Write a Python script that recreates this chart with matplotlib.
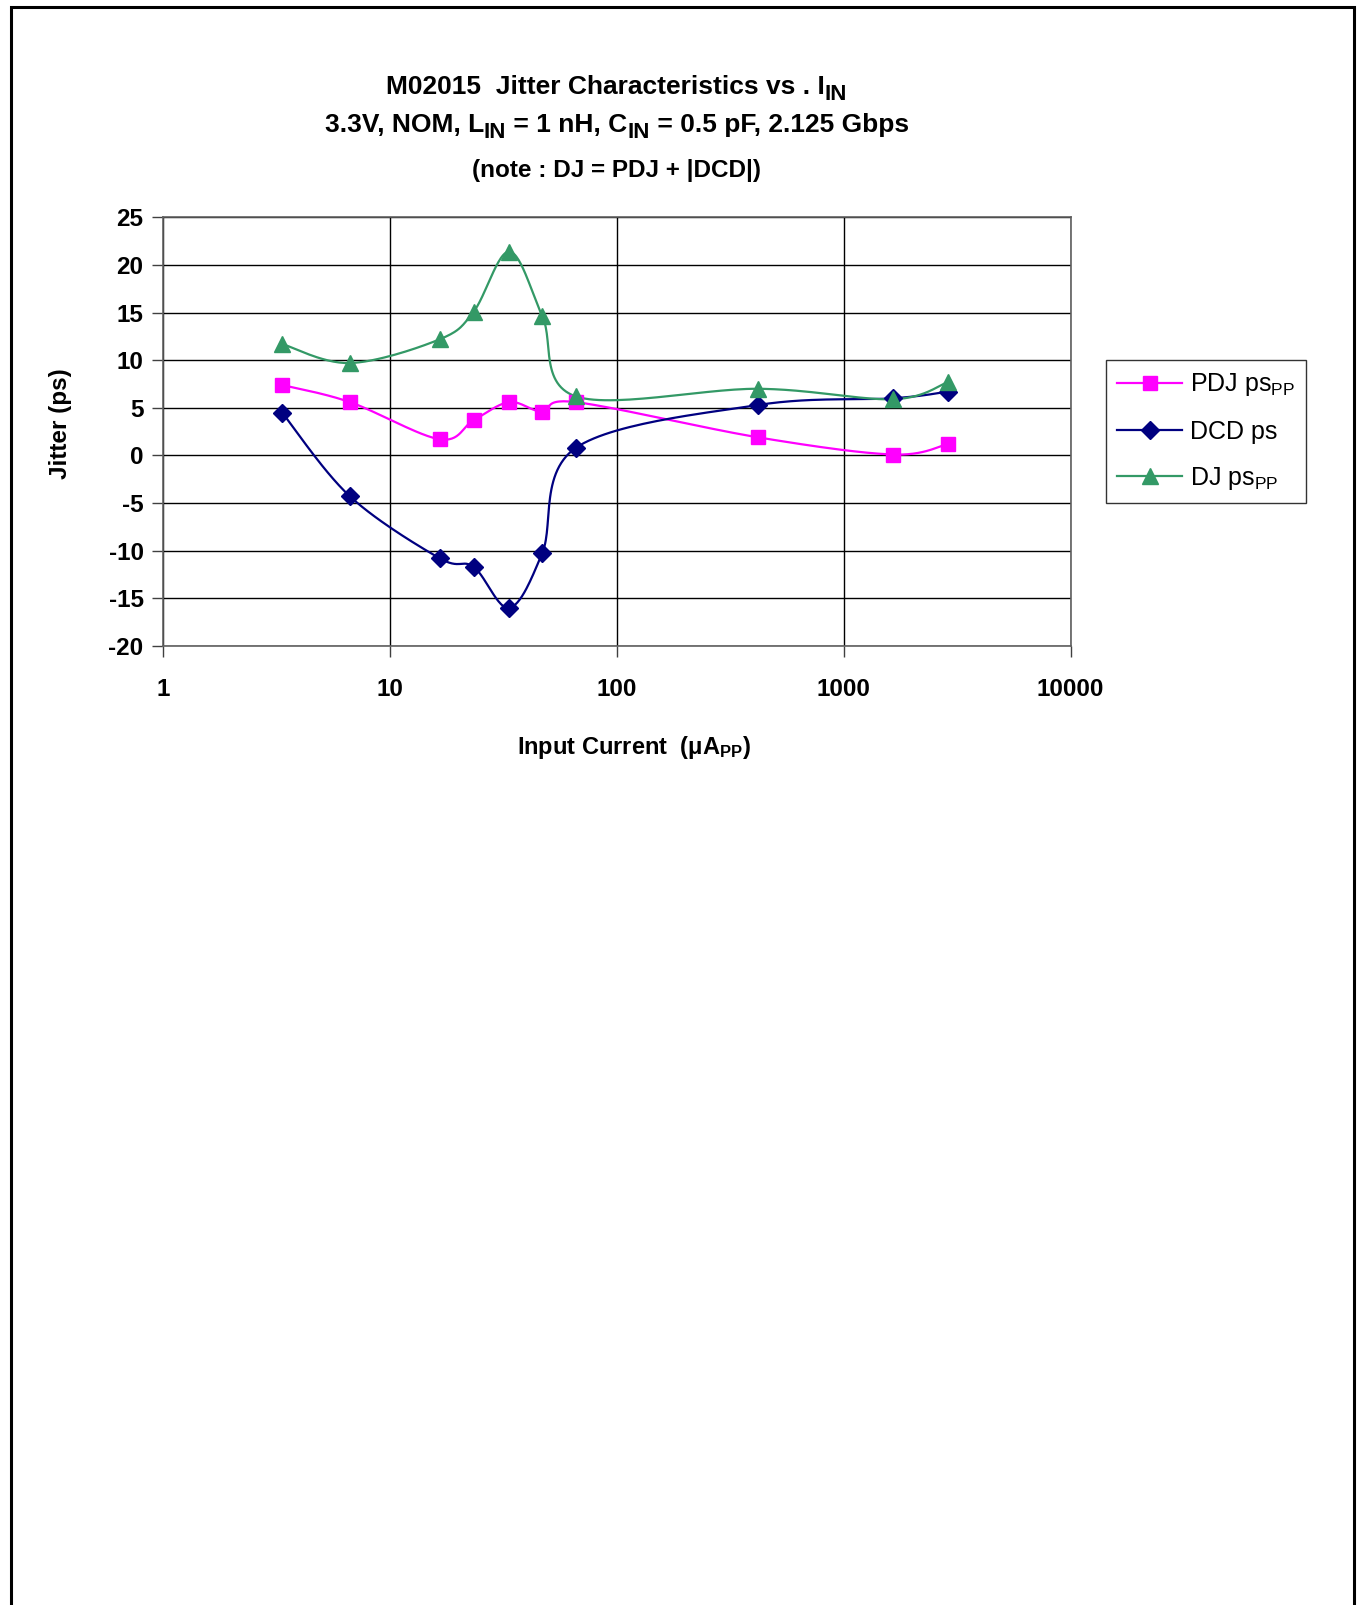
import matplotlib
matplotlib.use("Agg")
import matplotlib.pyplot as plt
import numpy as np
from matplotlib.patches import Rectangle

plt.rcParams['font.family'] = ['Liberation Sans', 'DejaVu Sans']
plt.rcParams['mathtext.fontset'] = 'custom'
plt.rcParams['mathtext.rm'] = 'Liberation Sans'
plt.rcParams['mathtext.it'] = 'Liberation Sans:italic'
plt.rcParams['mathtext.bf'] = 'Liberation Sans:bold'
plt.rcParams['axes.unicode_minus'] = False

W, H = 1357, 1605

# input current, uA pp
current = [3.35, 6.67, 16.6, 23.4, 33.6, 47, 66, 420, 1650, 2880]
pdj = [7.4, 5.6, 1.7, 3.7, 5.6, 4.6, 5.6, 1.9, 0.1, 1.2]
dcd = [4.5, -4.3, -10.8, -11.7, -16.0, -10.2, 0.8, 5.3, 6.0, 6.7]
dj = [11.7, 9.7, 12.2, 15.1, 21.4, 14.6, 6.2, 7.0, 5.9, 7.7]

xticks = [1, 10, 100, 1000, 10000]
yticks = list(range(-20, 30, 5))

title1 = [('M02015  Jitter Characteristics vs . I', False), ('IN', True)]
title2 = [('3.3V, NOM, L', False), ('IN', True), (' = 1 nH, C', False), ('IN', True),
          (' = 0.5 pF, 2.125 Gbps', False)]
title3 = [('(note : DJ = PDJ + |DCD|)', False)]


def smooth(xs, ys, n=30):
    # excel style smoothed line, bezier through the points (in log x)
    px = np.log10(np.array(xs, dtype=float))
    py = np.array(ys, dtype=float)
    px = np.concatenate([[px[0]], px, [px[-1]]])
    py = np.concatenate([[py[0]], py, [py[-1]]])
    outx, outy = [], []
    t = np.linspace(0, 1, n)
    for i in range(1, len(px) - 2):
        p0 = np.array([px[i], py[i]])
        p3 = np.array([px[i + 1], py[i + 1]])
        c1 = p0 + (np.array([px[i + 1], py[i + 1]]) - np.array([px[i - 1], py[i - 1]])) / 6
        c2 = p3 - (np.array([px[i + 2], py[i + 2]]) - np.array([px[i], py[i]])) / 6
        b = ((1 - t) ** 3)[:, None] * p0 + (3 * (1 - t) ** 2 * t)[:, None] * c1 \
            + (3 * (1 - t) * t ** 2)[:, None] * c2 + (t ** 3)[:, None] * p3
        outx.extend(b[:, 0])
        outy.extend(b[:, 1])
    return 10 ** np.array(outx), np.array(outy)


def draw_runs(fig, cx_px, base_px, runs, size):
    # text with full-ish size subscripts, centred on cx_px (pixels from left, baseline from top)
    r = fig.canvas.get_renderer()
    pieces = []
    total = 0
    for s, sub in runs:
        fs = size * 0.85 if sub else size
        t = fig.text(0, 0, s, fontsize=fs, fontweight='bold', va='baseline', ha='left')
        w = t.get_window_extent(r).width
        pieces.append((t, sub, w))
        total += w
    x = cx_px - total / 2
    for t, sub, w in pieces:
        y = base_px + (size * 0.32 if sub else 0)
        t.set_position((x / W, 1 - y / H))
        x += w


fig = plt.figure(figsize=(W / 100, H / 100), dpi=100)
fig.patches.append(Rectangle((11 / W, -0.01), 1343 / W, 1 - 7 / H + 0.01,
                             transform=fig.transFigure, fill=False, lw=2.2, ec='black'))

ax = fig.add_axes([163 / W, 1 - 646 / H, (1070.6 - 163) / W, (646 - 217.3) / H])
ax.set_xscale('log')
ax.set_xlim(1, 10000)
ax.set_ylim(-20, 25)

series = [
    (pdj, '#FF00FF', 's', 10, r'PDJ ps$_{\mathrm{PP}}$'),
    (dcd, '#000080', 'D', 9, 'DCD ps'),
    (dj, '#339966', '^', 11.5, r'DJ ps$_{\mathrm{PP}}$'),
]
handles = []
for ys, col, mk, ms, lab in series:
    sx, sy = smooth(current, ys)
    ax.plot(sx, sy, color=col, lw=1.6, zorder=3)
    ax.plot(current, ys, ls='none', marker=mk, ms=ms, color=col, zorder=4)
    h, = ax.plot([], [], color=col, lw=1.6, marker=mk, ms=ms, label=lab)
    handles.append(h)

ax.set_xticks(xticks)
ax.set_xticklabels([str(v) for v in xticks])
ax.minorticks_off()
ax.set_yticks(yticks)
ax.grid(True, color='black', lw=1.0)
ax.set_axisbelow(True)
for s in ax.spines.values():
    s.set_color('#606060')
    s.set_linewidth(1.2)
ax.tick_params(axis='both', labelsize=17.5, width=1.0, length=8, color='#404040', pad=15)
ax.tick_params(axis='y', pad=6)
for lbl in ax.get_xticklabels() + ax.get_yticklabels():
    lbl.set_fontweight('bold')

ax.set_ylabel('Jitter (ps)', fontsize=17.5, fontweight='bold')
ax.yaxis.set_label_coords(-0.1007, 0.518)
ax.set_xlabel(r'Input Current  ($\mathbf{\mu A}_{\mathbf{PP}}$)', fontsize=17,
              fontweight='bold')
ax.xaxis.set_label_coords(0.519, -0.236)
ax.xaxis.label.set_va('center')

cx = (163 + 1070.6) / 2
draw_runs(fig, cx, 94, title1, 19)
draw_runs(fig, cx, 132, title2, 19)
draw_runs(fig, cx, 177, title3, 17.5)

leg = fig.legend(handles=handles, loc='upper left',
                 bbox_to_anchor=(1106 / W, 1 - 360 / H), borderaxespad=0,
                 fontsize=18, frameon=True, fancybox=False, edgecolor='black',
                 borderpad=0.45, labelspacing=0.85, handlelength=2.6, handletextpad=0.3)
leg.get_frame().set_linewidth(1.0)

fig.savefig('out.png', dpi=100)
